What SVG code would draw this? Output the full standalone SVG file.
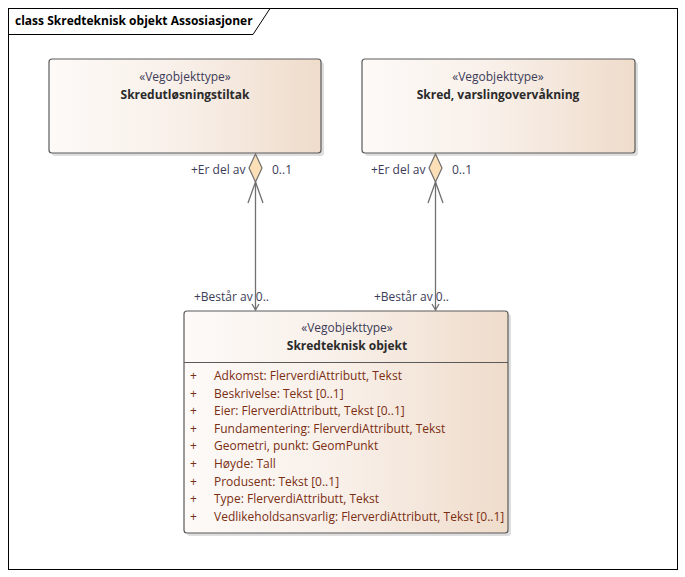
<svg xmlns="http://www.w3.org/2000/svg" width="685" height="577" viewBox="0 0 685 577">
<defs>
<linearGradient id="g" x1="0" y1="0" x2="1" y2="0">
<stop offset="0" stop-color="#fdfaf8"/>
<stop offset="0.5" stop-color="#f8efe8"/>
<stop offset="1" stop-color="#efdccb"/>
</linearGradient>
<style>
text{font-family:"Open Sans","Liberation Sans",Arial,sans-serif;font-size:12px}
.st{fill:#3c3c58;text-anchor:middle}
.nm{fill:#2a2a2a;font-weight:bold;text-anchor:middle}
.at{fill:#7a2e12}
.lb{fill:#3c3c58}
.box{fill:url(#g);stroke:#5a5a5a;stroke-width:1.2}
.sh{fill:#c8c8c8;opacity:0.6}
.ln{stroke:#707070;stroke-width:1.3;fill:none}
.dm{fill:#fbdfb6;stroke:#707070;stroke-width:1.2}
</style>
</defs>
<rect x="0" y="0" width="685" height="577" fill="#ffffff"/>
<g id="frame">
<rect x="8.5" y="8.5" width="669" height="561" fill="none" stroke="#000" stroke-width="1"/>
<path d="M8.5 34.5 H253 L270 8.5" fill="none" stroke="#000" stroke-width="1"/>
<text x="15" y="25" style="fill:#000;font-weight:bold">class Skredteknisk objekt Assosiasjoner</text>
</g>
<g id="node-skredutlosningstiltak">
<rect class="sh" x="52" y="62" width="272" height="94" rx="3"/>
<rect class="box" x="49" y="59" width="272" height="94" rx="3"/>
<text class="st" x="185" y="81">«Vegobjekttype»</text>
<text class="nm" x="185" y="99">Skredutløsningstiltak</text>
</g>
<g id="node-skred-varsling">
<rect class="sh" x="365" y="62" width="273" height="94" rx="3"/>
<rect class="box" x="362" y="59" width="273" height="94" rx="3"/>
<text class="st" x="498" y="81">«Vegobjekttype»</text>
<text class="nm" x="498" y="99">Skred, varslingovervåkning</text>
</g>
<g id="node-skredteknisk-objekt">
<rect class="sh" x="187" y="314" width="324" height="222" rx="3"/>
<rect class="box" x="184" y="311" width="324" height="222" rx="3"/>
<line x1="184" y1="362.5" x2="508" y2="362.5" stroke="#5a5a5a" stroke-width="1.2"/>
<text class="st" x="347" y="332">«Vegobjekttype»</text>
<text class="nm" x="347" y="350">Skredteknisk objekt</text>
<g class="at">
<text x="190" y="380">+</text><text x="214" y="380">Adkomst: FlerverdiAttributt, Tekst</text>
<text x="190" y="398">+</text><text x="214" y="398">Beskrivelse: Tekst [0..1]</text>
<text x="190" y="415">+</text><text x="214" y="415">Eier: FlerverdiAttributt, Tekst [0..1]</text>
<text x="190" y="433">+</text><text x="214" y="433">Fundamentering: FlerverdiAttributt, Tekst</text>
<text x="190" y="450">+</text><text x="214" y="450">Geometri, punkt: GeomPunkt</text>
<text x="190" y="468">+</text><text x="214" y="468">Høyde: Tall</text>
<text x="190" y="486">+</text><text x="214" y="486">Produsent: Tekst [0..1]</text>
<text x="190" y="503">+</text><text x="214" y="503">Type: FlerverdiAttributt, Tekst</text>
<text x="190" y="521">+</text><text x="214" y="521">Vedlikeholdsansvarlig: FlerverdiAttributt, Tekst [0..1]</text>
</g>
</g>
<g id="connectors">
<g id="c1">
<line class="ln" x1="255.5" y1="182" x2="255.5" y2="310"/>
<path class="ln" d="M248 203 L255.5 182 L263 203"/>
<path class="ln" d="M252 304 L255.5 310 L259 304"/>
<path class="dm" d="M255.5 154 L262 168 L255.5 182 L249 168 Z"/>
<text class="lb" x="191" y="174">+Er del av</text>
<text class="lb" x="272" y="174">0..1</text>
<text class="lb" x="194" y="301">+Består av 0..</text>
</g>
<g id="c2">
<line class="ln" x1="435.5" y1="182" x2="435.5" y2="310"/>
<path class="ln" d="M428 203 L435.5 182 L443 203"/>
<path class="ln" d="M432 304 L435.5 310 L439 304"/>
<path class="dm" d="M435.5 154 L442 168 L435.5 182 L429 168 Z"/>
<text class="lb" x="371" y="174">+Er del av</text>
<text class="lb" x="452" y="174">0..1</text>
<text class="lb" x="374" y="301">+Består av 0..</text>
</g>
</g>
</svg>
